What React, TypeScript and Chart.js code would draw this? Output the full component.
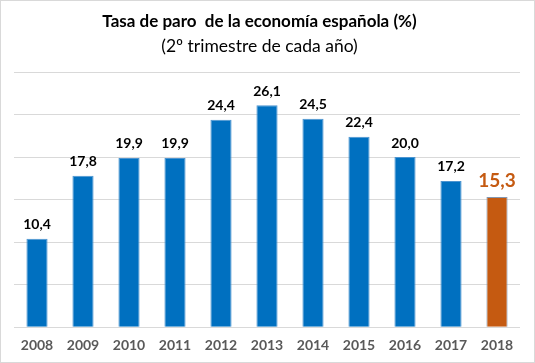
import React, { useEffect, useRef } from "react";
import { Chart, registerables } from "chart.js";

Chart.register(...registerables);

const years = ["2008", "2009", "2010", "2011", "2012", "2013", "2014", "2015", "2016", "2017", "2018"];
const rates = [10.4, 17.8, 19.9, 19.9, 24.4, 26.1, 24.5, 22.4, 20.0, 17.2, 15.3];
const labels = ["10,4", "17,8", "19,9", "19,9", "24,4", "26,1", "24,5", "22,4", "20,0", "17,2", "15,3"];
const titleText = "Tasa de paro  de la economía española (%)";
const subtitleText = "(2º trimestre de cada año)";

const FONT = "Lato, 'Open Sans', sans-serif";
const BLUE = "#0070C0";
const ORANGE = "#C55A11";

const barColors = years.map((_, i) => (i === years.length - 1 ? ORANGE : BLUE));
const barBorders = years.map((_, i) => (i === years.length - 1 ? "#8497B0" : "#4C94D0"));

const labelPlugin = {
  id: "valueLabels",
  afterDatasetsDraw(chart: any) {
    const ctx = chart.ctx;
    const meta = chart.getDatasetMeta(0);
    ctx.save();
    ctx.textAlign = "center";
    ctx.textBaseline = "bottom";
    meta.data.forEach((bar: any, i: number) => {
      const last = i === labels.length - 1;
      ctx.font = last ? `bold 19px ${FONT}` : `bold 14px ${FONT}`;
      ctx.fillStyle = last ? ORANGE : "#000000";
      ctx.fillText(labels[i], bar.x, bar.y - 7);
    });
    ctx.restore();
  },
};

const titlePlugin = {
  id: "customTitle",
  afterDraw(chart: any) {
    const ctx = chart.ctx;
    const cx = 259.5;
    ctx.save();
    ctx.textAlign = "center";
    ctx.textBaseline = "middle";
    ctx.fillStyle = "#000000";
    ctx.font = `bold 17px ${FONT}`;
    ctx.fillText(titleText, cx, 22);
    ctx.font = `17.5px ${FONT}`;
    ctx.fillText(subtitleText, cx, 46);
    ctx.restore();
  },
};

export default function App() {
  const ref = useRef<HTMLCanvasElement>(null);
  useEffect(() => {
    document.body.style.margin = "0";
    const chart = new Chart(ref.current!, {
      type: "bar",
      data: {
        labels: years,
        datasets: [
          {
            data: rates,
            backgroundColor: barColors,
            borderColor: barBorders,
            borderWidth: 1,
            barPercentage: 0.46,
            categoryPercentage: 1,
          },
        ],
      },
      options: {
        animation: false,
        responsive: false,
        maintainAspectRatio: false,
        layout: { padding: { top: 72, left: 14, right: 15, bottom: 7 } },
        plugins: { legend: { display: false }, tooltip: { enabled: false }, title: { display: false } },
        scales: {
          x: {
            grid: { display: false },
            border: { display: false },
            ticks: { color: "#595959", font: { family: FONT, size: 14, weight: "bold" }, padding: 2 },
          },
          y: {
            min: 0,
            max: 30,
            ticks: { display: false, stepSize: 5 },
            grid: { color: "#D9D9D9", drawTicks: false },
            border: { display: false },
          },
        },
      },
      plugins: [labelPlugin, titlePlugin],
    });
    return () => chart.destroy();
  }, []);
  return (
    <div style={{ width: 535, height: 363, position: "relative" }}>
      <canvas ref={ref} width={535} height={363} style={{ display: "block" }} />
      <div
        style={{
          position: "absolute",
          left: 0,
          top: 0,
          width: 535,
          height: 363,
          boxSizing: "border-box",
          border: "1px solid #D9D9D9",
          pointerEvents: "none",
        }}
      />
    </div>
  );
}
